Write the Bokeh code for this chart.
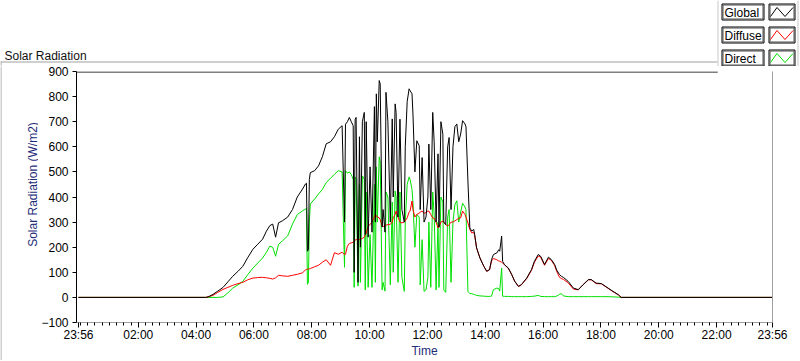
from math import pi
from bokeh.plotting import figure
from bokeh.models import ColumnDataSource, Range1d, FixedTicker, LinearAxis
from bokeh.layouts import column, row
from bokeh.embed import file_html
from bokeh.resources import INLINE
from bokeh.core.properties import value

# ---------------- data ----------------
# time in minutes after midnight (-4 == 23:56 of the previous day)
minutes = [
    -4, 260, 265, 275, 285, 296, 306, 316, 327, 337,
    347, 358, 368, 378, 386, 393, 399, 405, 411, 419,
    430, 440, 450, 461, 467, 469, 471, 473, 475, 477,
    486, 494, 502, 510, 519, 527, 535, 543, 548, 550,
    554, 558, 562, 566, 568, 570, 572, 576, 579, 581,
    585, 589, 591, 593, 597, 601, 605, 610, 612, 614,
    616, 620, 622, 626, 628, 632, 634, 638, 643, 647,
    649, 653, 655, 659, 663, 667, 672, 674, 678, 682,
    684, 688, 690, 694, 698, 703, 705, 709, 713, 717,
    721, 723, 727, 731, 734, 738, 742, 744, 748, 752,
    754, 758, 762, 765, 769, 773, 777, 781, 785, 789,
    793, 798, 800, 804, 808, 812, 816, 818, 822, 829,
    837, 843, 849, 853, 857, 864, 868, 870, 874, 876,
    880, 888, 895, 901, 909, 915, 926, 936, 942, 950,
    955, 963, 971, 977, 984, 988, 994, 998, 1002, 1012,
    1023, 1033, 1043, 1054, 1060, 1070, 1081, 1095, 1105, 1116,
    1122, 1436,
]

global_rad = [
    0, 0, 2, 12, 25, 40, 62, 84, 104, 124,
    158, 192, 212, 232, 264, 286, 292, 240, 297, 305,
    320, 350, 400, 432, 452, 455, 184, 190, 470, 497,
    505, 524, 560, 612, 620, 640, 670, 684, 300, 690,
    700, 717, 700, 684, 100, 710, 717, 60, 640, 200,
    700, 737, 250, 700, 240, 520, 260, 760, 300, 811,
    620, 864, 851, 280, 350, 260, 817, 700, 300, 711,
    400, 771, 737, 320, 710, 350, 300, 600, 780, 831,
    824, 811, 731, 500, 624, 604, 350, 557, 300, 320,
    400, 611, 350, 737, 620, 300, 572, 280, 700, 650,
    300, 290, 600, 637, 350, 600, 680, 691, 620, 651,
    704, 691, 680, 464, 277, 264, 271, 251, 197, 157,
    124, 104, 111, 150, 171, 177, 190, 184, 244, 144,
    130, 117, 91, 65, 44, 51, 77, 111, 144, 171,
    164, 131, 160, 151, 131, 110, 91, 84, 80, 64,
    37, 31, 51, 71, 71, 57, 55, 37, 24, 11,
    0, 0,
]

diffuse_rad = [
    0, 0, 2, 8, 20, 32, 40, 48, 55, 60,
    70, 77, 79, 80, 78, 76, 73, 78, 88, 86,
    84, 88, 92, 98, 110, 111, 112, 113, 114, 115,
    122, 128, 140, 150, 128, 178, 172, 180, 170, 172,
    204, 215, 217, 220, 225, 228, 230, 231, 231, 232,
    235, 240, 250, 255, 284, 290, 300, 320, 331, 325,
    320, 317, 310, 284, 282, 285, 288, 290, 291, 300,
    317, 330, 344, 320, 300, 297, 300, 305, 317, 340,
    344, 384, 350, 320, 331, 335, 340, 344, 335, 338,
    344, 344, 330, 317, 315, 300, 277, 280, 300, 304,
    300, 290, 284, 290, 300, 300, 305, 310, 315, 317,
    344, 330, 320, 297, 270, 257, 260, 247, 197, 157,
    124, 104, 110, 145, 155, 150, 145, 144, 140, 137,
    130, 115, 90, 64, 43, 50, 75, 108, 140, 165,
    160, 128, 155, 148, 127, 105, 80, 75, 72, 58,
    33, 30, 50, 70, 70, 55, 54, 36, 23, 10,
    0, 0,
]

direct_rad = [
    0, 0, 0, 0, 0, 2, 18, 37, 50, 64,
    90, 117, 137, 157, 180, 204, 200, 164, 211, 225,
    245, 292, 330, 345, 352, 355, 52, 60, 300, 372,
    392, 412, 430, 457, 475, 490, 505, 500, 120, 505,
    495, 500, 490, 470, 40, 480, 470, 45, 450, 60,
    484, 470, 30, 420, 40, 250, 40, 450, 60, 520,
    300, 560, 540, 30, 60, 25, 420, 400, 50, 380,
    100, 424, 400, 60, 420, 80, 24, 300, 450, 480,
    470, 430, 380, 200, 330, 320, 50, 230, 24, 30,
    80, 300, 40, 420, 330, 30, 300, 40, 400, 380,
    30, 20, 320, 350, 60, 300, 370, 385, 300, 340,
    375, 360, 350, 24, 15, 15, 12, 11, 8, 6,
    5, 4, 4, 5, 31, 37, 35, 25, 117, 5,
    4, 4, 3, 3, 3, 3, 3, 4, 5, 8,
    4, 3, 3, 3, 3, 5, 12, 15, 6, 3,
    3, 3, 3, 3, 3, 3, 3, 3, 2, 1,
    0, 0,
]

y_ticks = [-100, 0, 100, 200, 300, 400, 500, 600, 700, 800, 900]
x_major = [-4, 120, 240, 360, 480, 600, 720, 840, 960, 1080, 1200, 1320, 1436]
x_labels = ["23:56", "02:00", "04:00", "06:00", "08:00", "10:00", "12:00",
            "14:00", "16:00", "18:00", "20:00", "22:00", "23:56"]
x_minor = list(range(0, 1440, 15))

legend_names = ["Global", "Diffuse", "Direct"]
chart_title = "Solar Radiation"
y_title = "Solar Radiation (W/m2)"
x_title = "Time"

# ---------------- styles / layout constants ----------------
FONT = "Liberation Sans"
AXIS_BLUE = "#1e2c78"
GRAY = "#a0a0a0"
LIGHT = "#c8c8c8"
COL_GLOBAL = "#000000"
COL_DIFFUSE = "#ff0000"
COL_DIRECT = "#00e000"
legend_colors = [COL_GLOBAL, COL_DIFFUSE, COL_DIRECT]

TOTAL_W = 800
TOP_H = 66
MID_H = 294
LEFT_W = 38
MAIN_W = TOTAL_W - LEFT_W
FRAME_H = 251
X0, X1 = -8.13, 1436
Y0, Y1 = -100, 900
LEGEND_LEFT_PX = 717


def strip(width, height, x0, y0):
    """A bare figure whose data units are page pixels (y downward)."""
    return figure(width=width, height=height, title=None,
                  x_range=Range1d(x0, x0 + width), y_range=Range1d(y0 + height, y0),
                  output_backend="svg", toolbar_location=None,
                  x_axis_type=None, y_axis_type=None, min_border=0,
                  outline_line_color=None, background_fill_color="white",
                  border_fill_color="white", frame_align=False)


def hbar_px(f, x1, x2, y, color):
    f.quad(left=[x1], right=[x2], top=[y], bottom=[y + 1], fill_color=color, line_color=None)


def vbar_px(f, x, y1, y2, color):
    f.quad(left=[x], right=[x + 1], top=[y1], bottom=[y2], fill_color=color, line_color=None)


# ---------------- top strip: title + legend ----------------
top = strip(TOTAL_W, TOP_H, 0, 0)
hbar_px(top, 0, LEGEND_LEFT_PX, 61, GRAY)   # outer frame top edge
vbar_px(top, 0, 61, TOP_H, GRAY)            # outer frame left edge
vbar_px(top, LEGEND_LEFT_PX, 0, TOP_H, LIGHT)
vbar_px(top, 797, 0, TOP_H, LIGHT)
top.text(x=[4], y=[55], text=[chart_title], text_font=value(FONT),
         text_font_size="12px", text_color="#101010", text_baseline="alphabetic")

row_tops = [3, 26, 49]
for name, col, r in zip(legend_names, legend_colors, row_tops):
    for (l, rr) in [(721, 763), (768, 794)]:
        top.quad(left=[l + 0.5], right=[rr + 0.5], top=[r + 0.5], bottom=[r + 16.5],
                 fill_color="white", line_color="black", line_width=1)
        top.quad(left=[l + 1.5], right=[rr - 0.5], top=[r + 1.5], bottom=[r + 15.5],
                 fill_color=None, line_color="#505050", line_width=1)
    top.line(x=[770, 776.5, 784.5, 792.5], y=[r + 13, r + 4, r + 13, r + 4],
             line_color=col, line_width=1)
    top.text(x=[724], y=[r + 9], text=[name], text_font=value(FONT),
             text_font_size="12px", text_color="black", text_baseline="middle")

# ---------------- left strip: y title + outer edge ----------------
left = strip(LEFT_W, MID_H, 0, TOP_H)
vbar_px(left, 0, TOP_H, TOP_H + MID_H, GRAY)
left.text(x=[32], y=[184], text=[y_title], angle=pi / 2, text_font=value(FONT),
          text_font_size="12px", text_color=AXIS_BLUE, text_align="center",
          text_baseline="middle")

# ---------------- main plot ----------------
main = figure(width=MAIN_W, height=MID_H, title=None,
              x_range=Range1d(X0, X1), y_range=Range1d(Y0, Y1),
              output_backend="svg", toolbar_location=None,
              min_border_left=35, min_border_right=28, min_border_top=5,
              min_border_bottom=MID_H - 5 - FRAME_H, outline_line_color=None,
              background_fill_color="white", border_fill_color="white",
              frame_align=False)
main.grid.visible = False

# top edge of the plot area (stops where the legend panel begins)
px_per_min = 699 / (X1 - X0)
legend_left_data = X0 + (LEGEND_LEFT_PX - 73) / px_per_min
one_px_y = (Y1 - Y0) / FRAME_H
main.quad(left=[X0], right=[legend_left_data], top=[Y1], bottom=[Y1 - one_px_y],
          fill_color="black", line_color=None)

src = ColumnDataSource(dict(t=minutes, g=global_rad, d=diffuse_rad, r=direct_rad))
main.line("t", "r", source=src, line_color=COL_DIRECT, line_width=1)
main.line("t", "d", source=src, line_color=COL_DIFFUSE, line_width=1)
main.line("t", "g", source=src, line_color=COL_GLOBAL, line_width=1)

xa = main.xaxis[0]
xa.ticker = FixedTicker(ticks=x_major, minor_ticks=x_minor)
xa.major_label_overrides = dict(zip(x_major, x_labels))
xa.axis_line_color = GRAY
xa.major_tick_line_color = "black"
xa.minor_tick_line_color = "black"
xa.major_tick_in = 0
xa.major_tick_out = 5
xa.minor_tick_in = 0
xa.minor_tick_out = 3
xa.major_label_standoff = 0
xa.major_label_text_font = FONT
xa.major_label_text_font_size = "12px"
xa.major_label_text_color = "black"
xa.axis_label = x_title
xa.axis_label_text_font = FONT
xa.axis_label_text_font_size = "12px"
xa.axis_label_text_font_style = "normal"
xa.axis_label_text_color = AXIS_BLUE
xa.axis_label_standoff = -1

ya = main.yaxis[0]
ya.ticker = FixedTicker(ticks=y_ticks)
ya.axis_line_color = "black"
ya.major_tick_line_color = "black"
ya.minor_tick_line_color = None
ya.major_tick_in = 0
ya.major_tick_out = 4
ya.major_label_standoff = 4
ya.major_label_text_font = FONT
ya.major_label_text_font_size = "12px"
ya.major_label_text_color = "black"

main.add_layout(LinearAxis(ticker=FixedTicker(ticks=[]), axis_line_color=GRAY,
                           major_tick_line_color=None, minor_tick_line_color=None,
                           major_label_text_font_size="0px"), "right")

# ---------------- outer frame bottom edge ----------------
edge = figure(width=TOTAL_W, height=1, title=None, x_range=Range1d(0, 1), y_range=Range1d(0, 1),
              output_backend="svg", toolbar_location=None, x_axis_type=None,
              y_axis_type=None, min_border=0, outline_line_color=None,
              background_fill_color="black", border_fill_color="black",
              frame_align=False)

layout = column(top, row(left, main), edge)
open("out.html", "w").write(file_html(layout, INLINE))
